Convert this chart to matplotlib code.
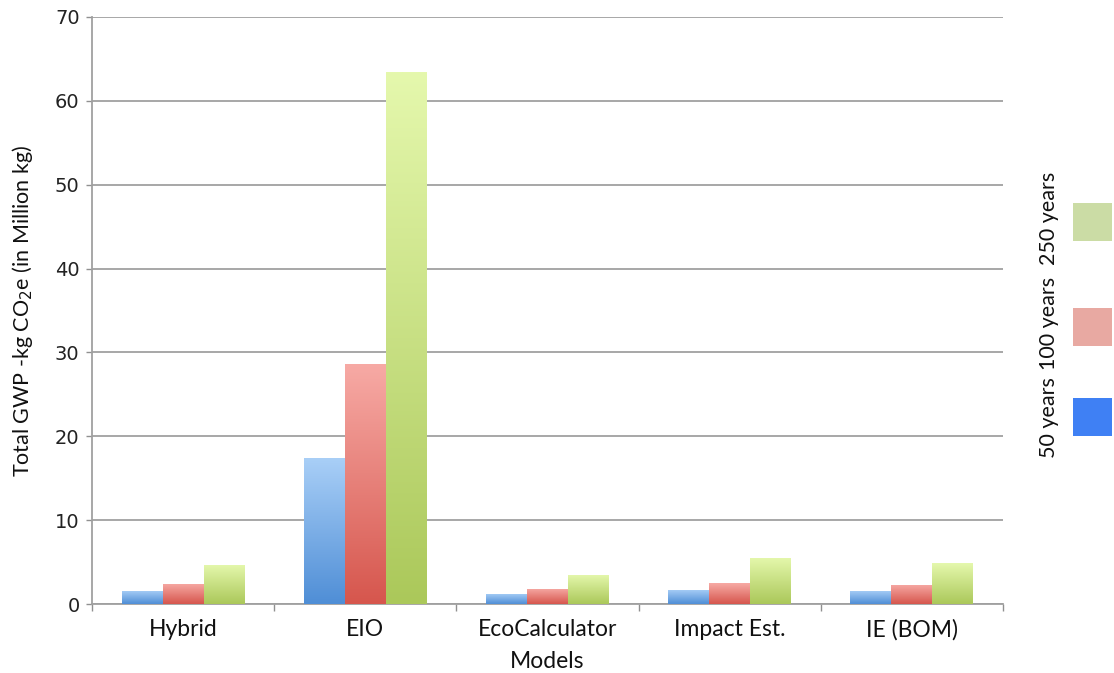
import numpy as np
import matplotlib
matplotlib.use("Agg")
import matplotlib.pyplot as plt
from matplotlib.patches import Rectangle
from matplotlib.colors import LinearSegmentedColormap

categories = ["Hybrid", "EIO", "EcoCalculator", "Impact Est.", "IE (BOM)"]
series_names = ["50 years", "100 years", "250 years"]
y50 = [1.6, 17.4, 1.2, 1.7, 1.6]
y100 = [2.4, 28.6, 1.8, 2.5, 2.3]
y250 = [4.7, 63.4, 3.5, 5.5, 4.85]
yticks = [0, 10, 20, 30, 40, 50, 60, 70]

grad = [("#a9cff7", "#4f8ed6"), ("#f7aaa5", "#d6564d"), ("#e5f8ad", "#abc85a")]
legend_cols = ["#3f80f4", "#e8a9a2", "#cbdca5"]

fig = plt.figure(figsize=(11.14, 6.73), dpi=100)
ax = fig.add_axes([92/1114, 1-604/673, (1003-92)/1114, (604-17)/673])

x = np.arange(len(categories))
w = 0.225
for i, (vals, (ctop, cbot)) in enumerate(zip([y50, y100, y250], grad)):
    bars = ax.bar(x + (i-1)*w, vals, w, color=cbot, linewidth=0, zorder=3)
    cmap = LinearSegmentedColormap.from_list("g%d" % i, [cbot, ctop])
    for b in bars:
        x0, y0 = b.get_x(), b.get_y()
        im = ax.imshow(np.linspace(0, 1, 256).reshape(-1, 1), cmap=cmap, origin="lower",
                       extent=[x0, x0 + b.get_width(), y0, y0 + b.get_height()],
                       aspect="auto", zorder=3.5, interpolation="bilinear")
        im.set_clip_path(b)

ax.set_xlim(-0.5, len(categories)-0.5)
ax.set_ylim(0, 70)
ax.set_yticks(yticks)
ax.set_yticklabels([str(t) for t in yticks], fontsize=14, family="DejaVu Sans", color="#222222")
ax.set_xticks(x)
ax.set_xticklabels(categories, fontsize=16.5, family="Lato", color="#111111")
ax.set_xticks(np.arange(-0.5, len(categories)), minor=True)
ax.tick_params(axis="x", which="major", length=0, pad=11)
ax.tick_params(axis="x", which="minor", length=5, color="#909090", width=1)
ax.tick_params(axis="y", length=4, color="#909090", width=1, pad=5)
ax.grid(axis="y", color="#a0a0a0", linewidth=1.3, zorder=0)
ax.set_axisbelow(True)
for s in ["top", "right"]:
    ax.spines[s].set_visible(False)
for s in ["left", "bottom"]:
    ax.spines[s].set_color("#a0a0a0")
    ax.spines[s].set_linewidth(1.3)

ax.set_xlabel("Models", fontsize=16.5, family="Lato", labelpad=7, color="#111111")
ax.set_ylabel("Total GWP -kg CO$_2$e (in Million kg)", fontsize=15.5, family="Lato",
              labelpad=14, color="#111111")

# legend
leg_y = [417, 327, 222]
leg_text_y = [418, 323, 218]
for name, col, yc, yt in zip(series_names, legend_cols, leg_y, leg_text_y):
    fig.patches.append(Rectangle((1073/1114, 1-(yc+19)/673), 39/1114, 38/673,
                                 transform=fig.transFigure, color=col, lw=0))
    fig.text(1049/1114, 1-yt/673, name, rotation=90, ha="center", va="center",
             fontsize=15.5, family="Lato", color="#111111")

fig.savefig("out.png", dpi=100)
